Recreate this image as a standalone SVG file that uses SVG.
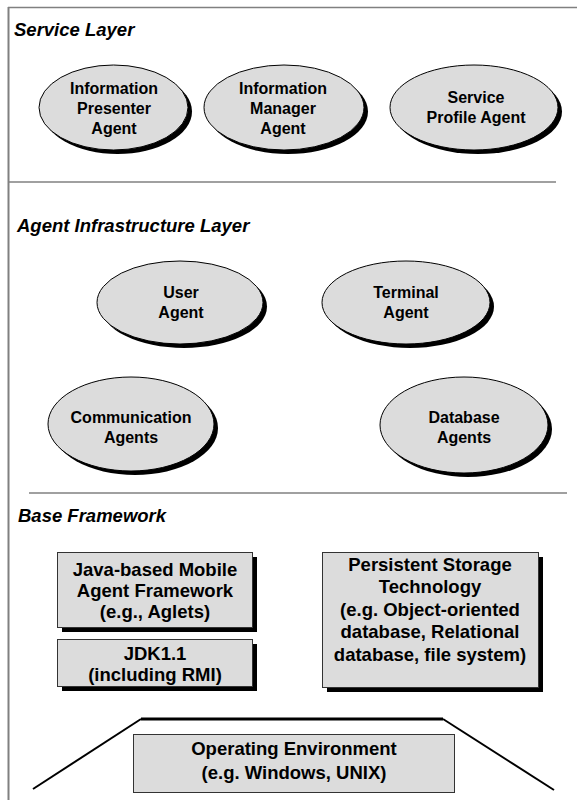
<svg xmlns="http://www.w3.org/2000/svg" width="577" height="800" viewBox="0 0 577 800">
<style>
.title{font-family:"Liberation Sans",Arial,sans-serif;font-weight:bold;font-style:italic;font-size:18.5px;fill:#000}
.lbl{font-family:"Liberation Sans",Arial,sans-serif;font-weight:bold;font-size:16px;fill:#000;text-anchor:middle}
.blbl{font-family:"Liberation Sans",Arial,sans-serif;font-weight:bold;font-size:18.5px;fill:#000;text-anchor:middle}
.ell{fill:#dcdcdc;stroke:#000;stroke-width:1}
.sh{fill:#000}
.box{fill:#dcdcdc;stroke:#333;stroke-width:1}
.sep{stroke:#808080;stroke-width:1.5;fill:none}
</style>
<rect width="577" height="800" fill="#fff"/>
<g id="frame">
<line x1="8.5" y1="7" x2="8.5" y2="800" stroke="#808080" stroke-width="2"/>
<line x1="8" y1="7.5" x2="577" y2="7.5" stroke="#808080" stroke-width="1.5"/>
<line class="sep" x1="8" y1="182" x2="556" y2="182"/>
<line class="sep" x1="29" y1="493" x2="567" y2="493"/>
</g>
<text class="title" x="14" y="36">Service Layer</text>
<text class="title" x="17" y="232">Agent Infrastructure Layer</text>
<text class="title" x="18" y="522">Base Framework</text>
<g id="n-presenter">
<ellipse class="sh" cx="117.5" cy="111.5" rx="74.5" ry="42.5"/>
<ellipse class="ell" cx="113.5" cy="107.5" rx="74.5" ry="42.5"/>
<text class="lbl" x="114" y="94">Information</text>
<text class="lbl" x="114" y="114">Presenter</text>
<text class="lbl" x="114" y="134">Agent</text>
</g>
<g id="n-manager">
<ellipse class="sh" cx="288" cy="111.5" rx="80" ry="42.5"/>
<ellipse class="ell" cx="284" cy="107.5" rx="80" ry="42.5"/>
<text class="lbl" x="283" y="94">Information</text>
<text class="lbl" x="283" y="114">Manager</text>
<text class="lbl" x="283" y="134">Agent</text>
</g>
<g id="n-profile">
<ellipse class="sh" cx="478" cy="111.5" rx="84" ry="42.5"/>
<ellipse class="ell" cx="474" cy="107.5" rx="84" ry="42.5"/>
<text class="lbl" x="476" y="103">Service</text>
<text class="lbl" x="476" y="123">Profile Agent</text>
</g>
<g id="n-user">
<ellipse class="sh" cx="184" cy="306.5" rx="83" ry="41.5"/>
<ellipse class="ell" cx="180" cy="302.5" rx="83" ry="41.5"/>
<text class="lbl" x="181" y="298">User</text>
<text class="lbl" x="181" y="318">Agent</text>
</g>
<g id="n-terminal">
<ellipse class="sh" cx="410" cy="306.5" rx="84" ry="41.5"/>
<ellipse class="ell" cx="406" cy="302.5" rx="84" ry="41.5"/>
<text class="lbl" x="406" y="298">Terminal</text>
<text class="lbl" x="406" y="318">Agent</text>
</g>
<g id="n-communication">
<ellipse class="sh" cx="135" cy="428" rx="83" ry="47"/>
<ellipse class="ell" cx="131" cy="424" rx="83" ry="47"/>
<text class="lbl" x="131" y="423">Communication</text>
<text class="lbl" x="131" y="443">Agents</text>
</g>
<g id="n-database">
<ellipse class="sh" cx="468" cy="429" rx="84" ry="48"/>
<ellipse class="ell" cx="464" cy="425" rx="84" ry="48"/>
<text class="lbl" x="464" y="423">Database</text>
<text class="lbl" x="464" y="443">Agents</text>
</g>
<g id="n-java">
<rect class="sh" x="62" y="557" width="195" height="75"/>
<rect class="box" x="57.5" y="552.5" width="195" height="75"/>
<text class="blbl" x="155" y="576">Java-based Mobile</text>
<text class="blbl" x="155" y="597">Agent Framework</text>
<text class="blbl" x="155" y="618">(e.g., Aglets)</text>
</g>
<g id="n-jdk">
<rect class="sh" x="62" y="644" width="195" height="47"/>
<rect class="box" x="57.5" y="639.5" width="195" height="47"/>
<text class="blbl" x="155" y="660">JDK1.1</text>
<text class="blbl" x="155" y="681">(including RMI)</text>
</g>
<g id="n-storage">
<rect class="sh" x="327" y="557" width="216" height="135"/>
<rect class="box" x="322.5" y="552.5" width="216" height="135"/>
<text class="blbl" x="430" y="571">Persistent Storage</text>
<text class="blbl" x="430" y="593">Technology</text>
<text class="blbl" x="430" y="616">(e.g. Object-oriented</text>
<text class="blbl" x="430" y="638">database, Relational</text>
<text class="blbl" x="430" y="661">database, file system)</text>
</g>
<g id="connectors">
<line x1="141" y1="719" x2="443" y2="719" stroke="#000" stroke-width="3"/>
<line x1="141" y1="719" x2="33" y2="789" stroke="#000" stroke-width="2"/>
<line x1="443" y1="719" x2="554" y2="790" stroke="#000" stroke-width="2"/>
</g>
<g id="n-os">
<rect class="box" x="133.5" y="734.5" width="321" height="58"/>
<text class="blbl" x="294" y="755">Operating Environment</text>
<text class="blbl" x="294" y="779">(e.g. Windows, UNIX)</text>
</g>
</svg>
